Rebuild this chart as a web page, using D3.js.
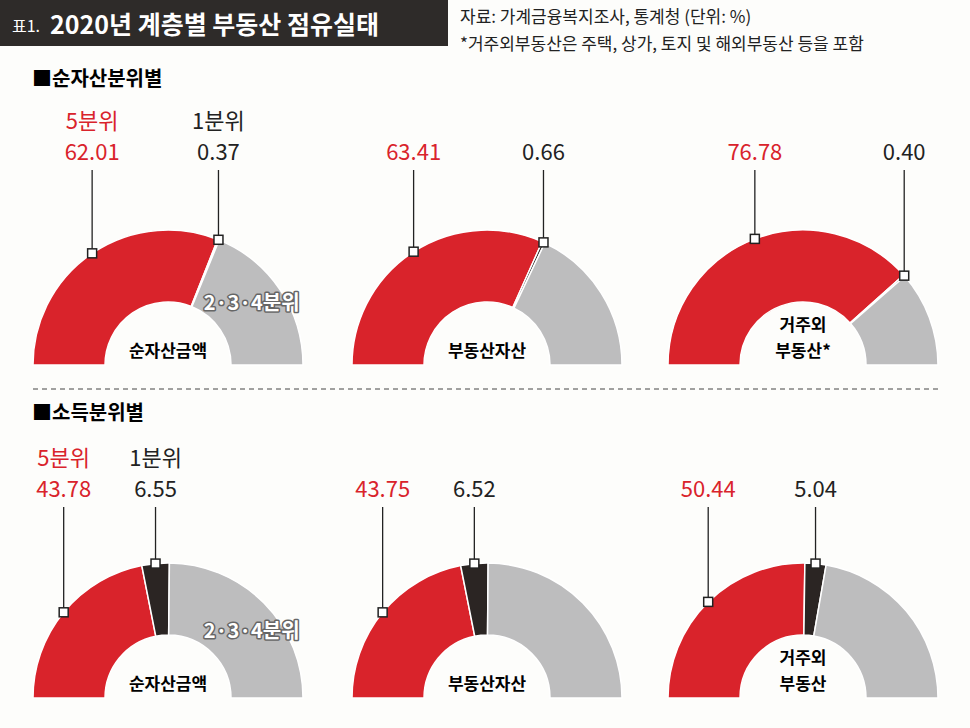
<!DOCTYPE html><html><head><meta charset="utf-8"><script src="https://cdn.jsdelivr.net/npm/d3@7"></script>
<style>body{margin:0;background:#fff}text{font-family:"Noto Sans CJK KR",sans-serif}</style></head><body>
<svg id="c" width="970" height="728"></svg>
<script>
const topCats=["순자산금액","부동산자산","거주외\n부동산*"];
const topQ5=[62.01,63.41,76.78];
const topQ1=[0.37,0.66,0.40];
const botCats=["순자산금액","부동산자산","거주외\n부동산"];
const botQ5=[43.78,43.75,50.44];
const botQ1=[6.55,6.52,5.04];
const centersX=[168,487,803];
const svg=d3.select("#c");
svg.append("rect").attr("width",970).attr("height",728).attr("fill","#fdfdfb");
svg.append("rect").attr("x",0).attr("y",0).attr("width",448).attr("height",46).attr("fill","#2e2b29");
svg.append("text").attr("x",12).attr("y",32).attr("fill","#fff").attr("font-size",16).text("표1.");
svg.append("text").attr("x",50).attr("y",34).attr("fill","#fff").attr("font-size",25).attr("font-weight","bold").text("2020년 계층별 부동산 점유실태");
svg.append("text").attr("x",460).attr("y",23).attr("font-size",17).attr("fill","#222").text("자료: 가계금융복지조사, 통계청   (단위: %)");
svg.append("text").attr("x",460).attr("y",50).attr("font-size",17).attr("fill","#222").text("*거주외부동산은 주택, 상가, 토지 및 해외부동산 등을 포함");
svg.append("text").attr("x",32).attr("y",86).attr("font-size",20).attr("font-weight","bold").text("■순자산분위별");
svg.append("text").attr("x",32).attr("y",420).attr("font-size",20).attr("font-weight","bold").text("■소득분위별");
svg.append("line").attr("x1",33).attr("x2",940).attr("y1",389).attr("y2",389).attr("stroke","#444").attr("stroke-dasharray","5,4");
const R=135,r=63;
const ang=d3.scaleLinear().domain([0,100]).range([-Math.PI/2,Math.PI/2]);
const arc=d3.arc().innerRadius(r).outerRadius(R);
function donut(cx,cy,q5,q1,cat,labY,showQ,showMid){
  const g=svg.append("g").attr("transform",`translate(${cx},${cy})`);
  const segs=[[0,q5,"#d9232b"],[q5,q5+q1,"#2b2523"],[q5+q1,100,"#bdbdbe"]];
  segs.forEach(s=>g.append("path").attr("d",arc({startAngle:ang(s[0]),endAngle:ang(s[1])})).attr("fill",s[2]).attr("stroke","#fff").attr("stroke-width",1.5));
  const pts=[[q5/2,q5,"5분위","#d9232b"],[q5+q1/2,q1,"1분위","#222"]];
  pts.forEach(p=>{
    const a=ang(p[0]);const x=R*Math.sin(a),y=-R*Math.cos(a);
    g.append("line").attr("x1",x).attr("x2",x).attr("y1",y).attr("y2",labY-cy+10).attr("stroke","#222").attr("stroke-width",1.3);
    g.append("rect").attr("x",x-4.5).attr("y",y-4.5).attr("width",9).attr("height",9).attr("fill","#fff").attr("stroke","#222").attr("stroke-width",1.5);
    if(showQ)g.append("text").attr("x",x).attr("y",labY-cy-31).attr("text-anchor","middle").attr("font-size",22).attr("fill",p[3]).text(p[2]);
    g.append("text").attr("x",x).attr("y",labY-cy).attr("text-anchor","middle").attr("font-size",22).attr("fill",p[3]).text(p[1].toFixed(2));
  });
  const lines=cat.split("\n");
  lines.forEach((t,k)=>g.append("text").attr("x",0).attr("y",-8-(lines.length-1-k)*26).attr("text-anchor","middle").attr("font-size",17).attr("font-weight","bold").text(t));
  if(showMid)g.append("text").attr("x",R*0.62).attr("y",showMid).attr("text-anchor","middle").attr("font-size",20).attr("font-weight","bold").attr("fill","#fff").attr("stroke","#666").attr("stroke-width",3).attr("paint-order","stroke").attr("stroke-linejoin","round").text("2·3·4분위");
}
topCats.forEach((c,i)=>donut(centersX[i],365,topQ5[i],topQ1[i],c,160,i===0,i===0?-55:0));
botCats.forEach((c,i)=>donut(centersX[i],698,botQ5[i],botQ1[i],c,497,i===0,i===0?-60:0));
</script></body></html>
